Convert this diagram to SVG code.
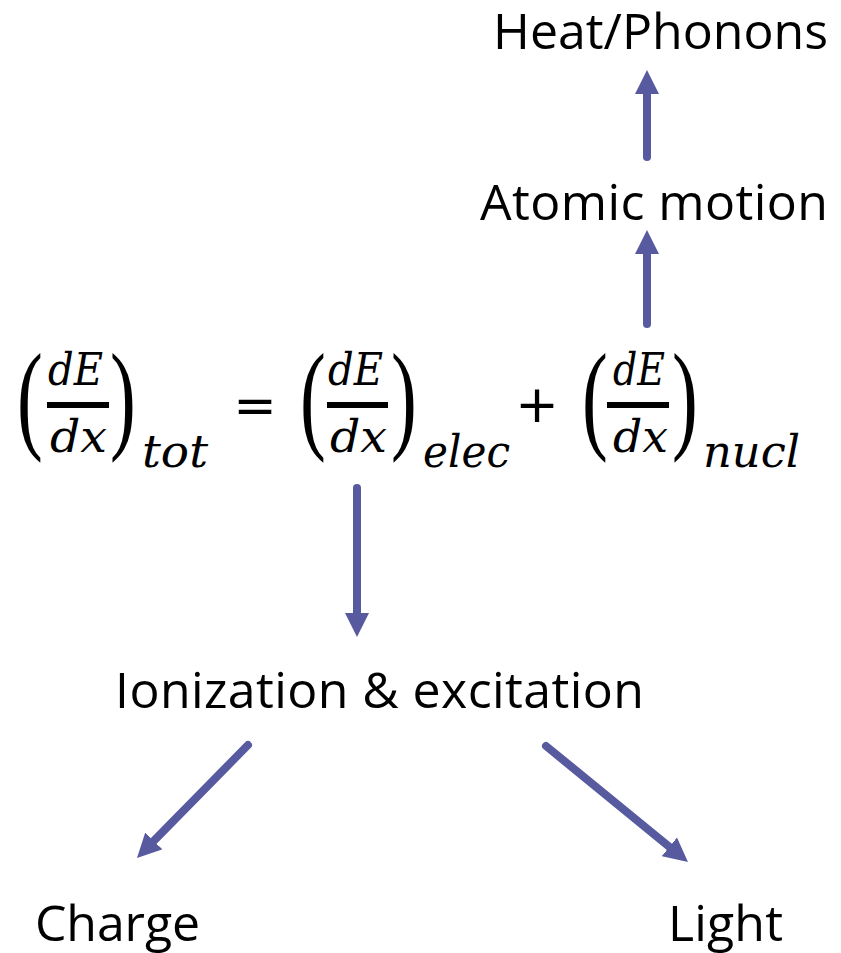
<svg xmlns="http://www.w3.org/2000/svg" width="841" height="953" viewBox="0 0 841 953">
<style>
.lbl{font-family:"Open Sans","Noto Sans",sans-serif;font-size:50px;fill:#000}
.m{font-family:"DejaVu Serif","Liberation Serif",serif;font-style:italic;font-size:44px;fill:#000}
.p{font-family:"Liberation Serif",serif;font-size:121px;fill:#000}
.op{font-family:"DejaVu Sans",sans-serif;font-size:52px;fill:#000}
.bar{stroke:#000;stroke-width:6}
.arr{stroke:#575A9F;stroke-width:8;stroke-linecap:round;fill:none;marker-end:url(#ah)}
</style>
<defs>
<marker id="ah" markerUnits="userSpaceOnUse" markerWidth="24" markerHeight="24" refX="0" refY="12" orient="auto" viewBox="0 0 24 24">
<path d="M0,0 L24,12 L0,24 z" fill="#575A9F"/>
</marker>
</defs>
<g id="heat"><text class="lbl" x="828" y="49" text-anchor="end" textLength="335">Heat/Phonons</text></g>
<g id="atomic"><text class="lbl" x="828" y="220" text-anchor="end" textLength="348">Atomic motion</text></g>
<g id="equation">
<text class="p" transform="translate(17,437) scale(0.64,1)">(</text>
<text class="m" x="48" y="385" textLength="55" lengthAdjust="spacingAndGlyphs">dE</text>
<line class="bar" x1="47" y1="405" x2="109" y2="405"/>
<text class="m" x="50" y="452" textLength="57" lengthAdjust="spacingAndGlyphs">dx</text>
<text class="p" transform="translate(110,437) scale(0.64,1)">)</text>
<text class="m" x="142" y="467" textLength="66" lengthAdjust="spacingAndGlyphs">tot</text>
<text class="op" x="255" y="423" text-anchor="middle">=</text>
<text class="p" transform="translate(300,437) scale(0.64,1)">(</text>
<text class="m" x="328" y="385" textLength="55" lengthAdjust="spacingAndGlyphs">dE</text>
<line class="bar" x1="327" y1="405" x2="388" y2="405"/>
<text class="m" x="330" y="452" textLength="57" lengthAdjust="spacingAndGlyphs">dx</text>
<text class="p" transform="translate(391,437) scale(0.64,1)">)</text>
<text class="m" x="423" y="467" textLength="87" lengthAdjust="spacingAndGlyphs">elec</text>
<text class="op" x="537" y="422" text-anchor="middle">+</text>
<text class="p" transform="translate(582,437) scale(0.64,1)">(</text>
<text class="m" x="613" y="385" textLength="52" lengthAdjust="spacingAndGlyphs">dE</text>
<line class="bar" x1="607" y1="405" x2="669" y2="405"/>
<text class="m" x="613" y="452" textLength="55" lengthAdjust="spacingAndGlyphs">dx</text>
<text class="p" transform="translate(672,437) scale(0.64,1)">)</text>
<text class="m" x="703" y="467" textLength="97" lengthAdjust="spacingAndGlyphs">nucl</text>
</g>
<g id="ionization"><text class="lbl" x="115" y="708" textLength="529">Ionization &amp; excitation</text></g>
<g id="charge"><text class="lbl" x="35" y="941" textLength="165">Charge</text></g>
<g id="light"><text class="lbl" x="668" y="941" textLength="115">Light</text></g>
<g id="connectors">
<line class="arr" x1="357" y1="488" x2="357" y2="613"/>
<line class="arr" x1="647" y1="157" x2="647" y2="94"/>
<line class="arr" x1="647" y1="324" x2="647" y2="254"/>
<line class="arr" x1="248" y1="745" x2="153.8" y2="840.9"/>
<line class="arr" x1="546" y1="746" x2="669.4" y2="846.8"/>
</g>
</svg>
